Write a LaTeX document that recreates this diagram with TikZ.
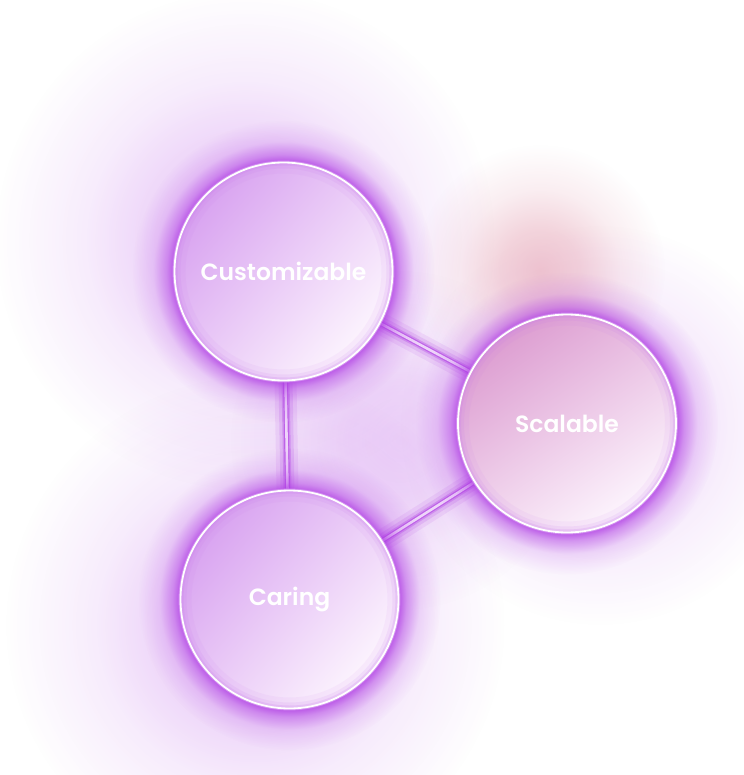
\documentclass[tikz,border=0pt]{standalone}
\usepackage{fontspec}
\newfontfamily\lbl{Poppins SemiBold}
\usetikzlibrary{fadings}
\pgfdeclareradialshading{ringshade}{\pgfpoint{0bp}{0bp}}{color(0bp)=(white!85!black); color(18bp)=(white!85!black); color(19.3bp)=(white!50!black); color(21.5bp)=(white!15!black); color(25bp)=(black); color(50bp)=(black)}
\pgfdeclarefading{ringglow}{\pgfuseshading{ringshade}}
\pgfdeclareradialshading{hazeshade}{\pgfpoint{0bp}{0bp}}{color(0bp)=(white); color(8bp)=(white!75!black); color(16bp)=(white!30!black); color(25bp)=(black); color(50bp)=(black)}
\pgfdeclarefading{haze}{\pgfuseshading{hazeshade}}
\definecolor{glowp}{RGB}{176,62,228}
\definecolor{inA}{RGB}{216,162,240}
\definecolor{inB}{RGB}{253,246,254}
\definecolor{pinkhaze}{RGB}{226,150,170}
\definecolor{linec}{RGB}{238,212,250}
\pgfdeclarelayer{bg}
\pgfsetlayers{bg,main}
\tikzset{
  ball/.style={circle, minimum size=218pt, inner sep=0pt, draw=white, line width=1.8pt, text=white, font=\lbl\fontsize{23.5}{23.5}\selectfont},
  conn/.style={draw=linec, line width=2.6pt, line cap=butt},
  connglow/.style={draw=glowp, line cap=butt},
  ballfill/.style={left color=inA, right color=inB, shading angle=50},
}
\begin{document}
\begin{tikzpicture}[x=1pt,y=-1pt]
\useasboundingbox (0,0) rectangle (743,775);
\node[ball] (cust) at (283.5,271.5) {Customizable};
\node[ball] (scal) at (567,423.5) {Scalable};
\node[ball] (car) at (289.5,599.5) {Caring};
\begin{pgfonlayer}{bg}
  \fill[white] (0,0) rectangle (743,775);
  % broad haze
  \fill[glowp, opacity=0.32, path fading=haze] (245,240) circle (250);
  \fill[glowp, opacity=0.32, path fading=haze] (255,625) circle (250);
  \fill[glowp, opacity=0.28, path fading=haze] (600,425) circle (200);
  \fill[glowp, opacity=0.25, path fading=haze] (400,440) circle (170);
  \fill[pinkhaze, opacity=0.55, path fading=haze] (540,270) circle (125);
  % connector glow
  \foreach \w/\o in {22/0.10, 14/0.16, 8/0.3, 5/0.55}{
    \draw[connglow, line width=\w pt, opacity=\o] (cust) -- (scal);
    \draw[connglow, line width=\w pt, opacity=\o] (scal) -- (car);
    \draw[connglow, line width=\w pt, opacity=\o] (cust) -- (car);
  }
  \draw[conn] (cust) -- (scal);
  \draw[conn] (scal) -- (car);
  \draw[conn] (cust) -- (car);
  % circle glows
  \foreach \n in {cust,scal,car}{
    \fill[glowp, path fading=ringglow] (\n.center) circle (151);
  }
  % circle fills
  \foreach \n in {cust,car}{
    \shade[ballfill] (\n.center) circle (109);
  }
  \shade[left color=pinkhaze!45!inA, right color=inB, shading angle=35] (scal.center) circle (109);
  % inner glow
  \foreach \n in {cust,scal,car}{
    \begin{scope}
      \clip (\n.center) circle (109);
      \foreach \w/\o in {22/0.08, 12/0.12, 6/0.2}{
        \draw[glowp!70!white, line width=\w pt, opacity=\o] (\n.center) circle (109);
      }
    \end{scope}
    \draw[glowp!60!white, line width=1.2pt] (\n.center) circle (110.3);
  }
\end{pgfonlayer}
\end{tikzpicture}
\end{document}
